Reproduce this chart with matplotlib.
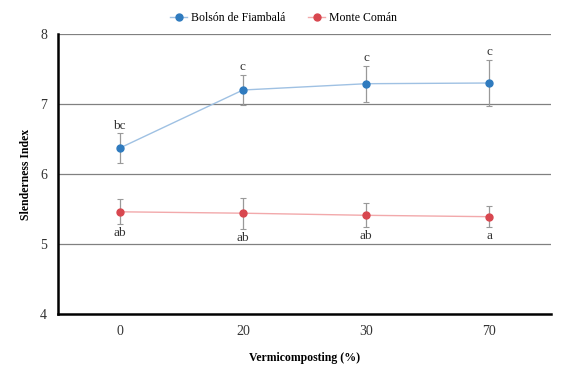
import matplotlib
matplotlib.use("Agg")
import matplotlib.pyplot as plt
from matplotlib.lines import Line2D

categories = ["0", "20", "30", "70"]
bolson = [6.37, 7.20, 7.29, 7.30]
bolson_err = [0.21, 0.22, 0.26, 0.33]
bolson_letters = ["bc", "c", "c", "c"]
monte = [5.46, 5.44, 5.41, 5.39]
monte_err = [0.18, 0.22, 0.17, 0.15]
monte_letters = ["ab", "ab", "ab", "a"]

plt.rcParams['font.family'] = ['Liberation Serif', 'DejaVu Serif']

fig = plt.figure(figsize=(5.67, 3.75), dpi=100)
ax = fig.add_axes([0.1023, 0.1627, 0.8697, 0.7466])

x = list(range(len(categories)))
blue = "#2f7bbf"
red = "#d8474f"

ax.plot(x, bolson, color="#9fc1e3", lw=1.0, zorder=2)
ax.errorbar(x, bolson, yerr=bolson_err, fmt="none", ecolor="#999999", elinewidth=0.9, capsize=2, capthick=0.8, zorder=3)
ax.plot(x, bolson, "o", color=blue, ms=5, zorder=4)

ax.plot(x, monte, color="#f2a9ab", lw=1.0, zorder=2)
ax.errorbar(x, monte, yerr=monte_err, fmt="none", ecolor="#999999", elinewidth=0.9, capsize=2, capthick=0.8, zorder=3)
ax.plot(x, monte, "o", color=red, ms=5, zorder=4)

for xi, v, e, t in zip(x, bolson, bolson_err, bolson_letters):
    ax.annotate(t, (xi, v + e), xytext=(0, 5.5), textcoords="offset points",
                ha="center", va="center", fontsize=9.5, color="#333333")
for xi, v, e, t in zip(x, monte, monte_err, monte_letters):
    ax.annotate(t, (xi, v - e), xytext=(0, -6.5), textcoords="offset points",
                ha="center", va="center", fontsize=9.5, color="#333333")

ax.set_xlim(-0.5, 3.5)
ax.set_ylim(4, 8)
ax.set_yticks([4, 5, 6, 7, 8])
ax.set_xticks(x)
ax.set_xticklabels(categories)
for yv in [5, 6, 7, 8]:
    ax.axhline(yv, color="#808080", lw=0.9, zorder=1)

for s in ["top", "right"]:
    ax.spines[s].set_visible(False)
ax.spines["left"].set_linewidth(1.8)
ax.spines["bottom"].set_linewidth(1.8)
ax.tick_params(axis="both", length=0, labelsize=10, colors="#333333", pad=8)
ax.tick_params(axis="y", pad=8)

ax.set_ylabel("Slenderness Index", fontsize=8.5, fontweight="bold", labelpad=6)
ax.set_xlabel("Vermicomposting (%)", fontsize=8.5, fontweight="bold", labelpad=10)

handles = [Line2D([0], [0], color="#9fc1e3", marker="o", markerfacecolor=blue, markeredgecolor=blue, ms=5, lw=1),
           Line2D([0], [0], color="#f2a9ab", marker="o", markerfacecolor=red, markeredgecolor=red, ms=5, lw=1)]
fig.legend(handles, ["Bolsón de Fiambalá", "Monte Comán"], loc="center", bbox_to_anchor=(0.5, 0.952),
           ncol=2, frameon=False, fontsize=8.5, handlelength=1.4, handletextpad=0.3, columnspacing=2.0)

fig.savefig("out.png", dpi=100)
